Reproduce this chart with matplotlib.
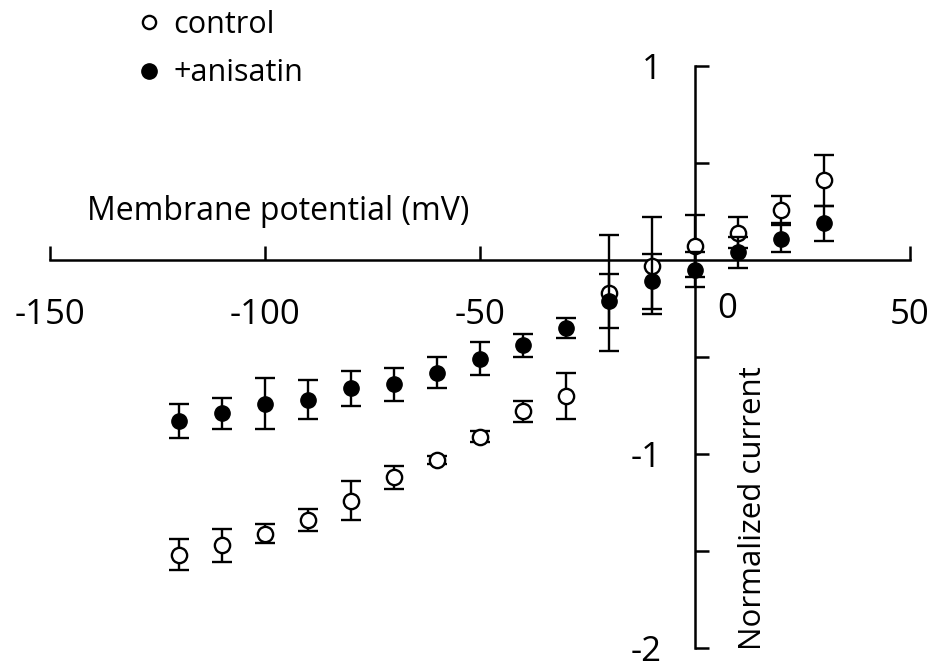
import matplotlib
matplotlib.use("Agg")
import matplotlib.pyplot as plt
from matplotlib.lines import Line2D

plt.rcParams["font.family"] = ["Open Sans", "DejaVu Sans"]

# membrane potential steps (mV)
voltage = [-120, -110, -100, -90, -80, -70, -60, -50, -40, -30, -20, -10, 0, 10, 20, 30]

# normalized current, mean and s.e.m.
control = [-1.52, -1.47, -1.41, -1.34, -1.24, -1.12, -1.03, -0.91,
           -0.78, -0.70, -0.17, -0.03, 0.07, 0.14, 0.26, 0.41]
control_err = [0.08, 0.085, 0.05, 0.055, 0.10, 0.06, 0.02, 0.03,
               0.055, 0.12, 0.30, 0.25, 0.16, 0.08, 0.07, 0.13]
anisatin = [-0.83, -0.79, -0.74, -0.72, -0.66, -0.64, -0.58, -0.51,
            -0.44, -0.35, -0.21, -0.11, -0.05, 0.04, 0.11, 0.19]
anisatin_err = [0.09, 0.08, 0.13, 0.10, 0.09, 0.085, 0.08, 0.085,
                0.06, 0.05, 0.14, 0.14, 0.09, 0.08, 0.07, 0.09]

x_ticks = [-150, -100, -50, 50]
y_ticks = [1, -1, -2]
y_minor = [0.5, -0.5, -1.5]

fig = plt.figure(figsize=(9.37, 6.68), dpi=100)
ax = fig.add_axes([50 / 937, 20 / 668, 860 / 937, 582 / 668])

eb = dict(fmt="o", color="black", ecolor="black", elinewidth=1.7,
          capsize=7, capthick=1.7, markersize=11)
ax.errorbar(voltage, control, yerr=control_err, mfc="white", mec="black",
            mew=1.7, zorder=3, **eb)
ax.errorbar(voltage, anisatin, yerr=anisatin_err, mfc="black", mec="black",
            zorder=4, **eb)

ax.set_xlim(-150, 50)
ax.set_ylim(-2, 1)
for side in ("top", "right"):
    ax.spines[side].set_visible(False)
ax.spines["left"].set_position(("data", 0))
ax.spines["bottom"].set_position(("data", 0))
for side in ("left", "bottom"):
    ax.spines[side].set_linewidth(1.8)

ax.set_xticks(x_ticks)
ax.set_xticklabels([str(v) for v in x_ticks])
ax.set_yticks(y_ticks)
ax.set_yticklabels([str(v) for v in y_ticks])
ax.set_yticks(y_minor, minor=True)
ax.tick_params(axis="both", which="both", direction="in", length=10,
               width=1.8, labelsize=25)
ax.tick_params(axis="x", pad=27)
ax.tick_params(axis="y", pad=24)

# zero label sits just right of the vertical axis
ax.text(7.5, -0.25, "0", fontsize=25, ha="center", va="center")

ax.text(-97, 0.25, "Membrane potential (mV)", fontsize=23,
        ha="center", va="center")
ax.text(13.5, -1.28, "Normalized current", fontsize=22.5, rotation=90,
        ha="center", va="center")

handles = [
    Line2D([], [], marker="o", ls="none", mfc="white", mec="black",
           mew=1.7, markersize=9.5, label="control"),
    Line2D([], [], marker="o", ls="none", mfc="black", mec="black",
           markersize=11, label="+anisatin"),
]
ax.legend(handles=handles, loc="upper left", frameon=False, fontsize=22,
          bbox_to_anchor=(140 / 937, 1 - 10 / 668),
          bbox_transform=fig.transFigure, borderpad=0, borderaxespad=0,
          handlelength=0.6, handletextpad=0.5, labelspacing=0.6)

fig.savefig("out.png", dpi=100)
